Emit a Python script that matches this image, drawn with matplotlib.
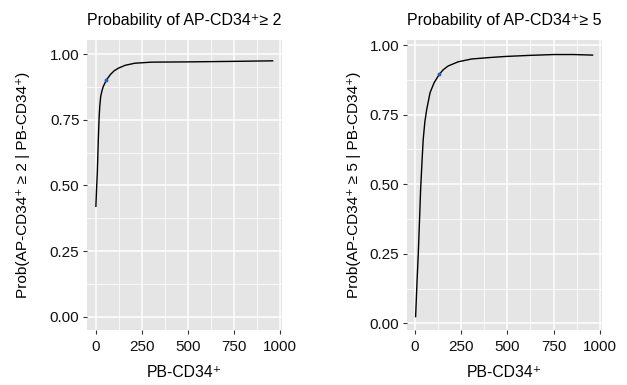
import matplotlib
matplotlib.use("Agg")
import matplotlib.pyplot as plt
from matplotlib.ticker import FormatStrFormatter

plt.rcParams['font.family'] = ['Liberation Sans', 'DejaVu Sans']

# left panel: AP-CD34+ >= 2
pb_left = [1, 5, 9, 14, 18, 22, 27, 34, 41, 58, 80, 100, 123, 160, 213, 304, 500, 750, 960]
prob_left = [0.42, 0.49, 0.55, 0.67, 0.75, 0.80, 0.837, 0.86, 0.876, 0.901, 0.922, 0.936,
             0.946, 0.957, 0.965, 0.969, 0.970, 0.972, 0.974]
mark_left = (58, 0.901)

# right panel: AP-CD34+ >= 5
pb_right = [5, 12, 19.5, 26, 32, 39, 46, 55, 65, 83, 105, 133, 155, 181, 235, 307, 400, 487,
            620, 750, 860, 960]
prob_right = [0.024, 0.14, 0.252, 0.37, 0.481, 0.575, 0.661, 0.725, 0.769, 0.829, 0.865, 0.895,
              0.912, 0.925, 0.940, 0.950, 0.955, 0.959, 0.963, 0.966, 0.966, 0.964]
mark_right = (133, 0.895)

x_ticks = [0, 250, 500, 750, 1000]
y_ticks = [0.0, 0.25, 0.5, 0.75, 1.0]

panels = [
    dict(x=pb_left, y=prob_left, mark=mark_left, k=2, ylim=(-0.0506, 1.053),
         pos=[0.1388, 0.1429, 0.311, 0.753], xlim=(-47, 1011), ypad=14),
    dict(x=pb_right, y=prob_right, mark=mark_right, k=5, ylim=(-0.024, 1.018),
         pos=[0.6491, 0.1429, 0.311, 0.753], xlim=(-41.6, 1011), ypad=6),
]

fig = plt.figure(figsize=(6.27, 3.85), dpi=100)

for p in panels:
    ax = fig.add_axes(p['pos'])
    ax.set_facecolor('#E5E5E5')
    for s in ax.spines.values():
        s.set_visible(False)
    ax.set_xlim(*p['xlim'])
    ax.set_ylim(*p['ylim'])
    ax.set_xticks(x_ticks)
    ax.set_yticks(y_ticks)
    ax.set_xticks([125, 375, 625, 875], minor=True)
    ax.set_yticks([0.125, 0.375, 0.625, 0.875], minor=True)
    ax.yaxis.set_major_formatter(FormatStrFormatter('%.2f'))
    ax.grid(which='major', color='white', lw=1.1)
    ax.grid(which='minor', color='white', lw=0.55)
    ax.set_axisbelow(True)
    ax.tick_params(which='major', length=3, width=0.8, color='#333333',
                   labelsize=11, labelcolor='#111111', pad=2.5)
    ax.tick_params(axis='x', which='major', pad=4)
    ax.tick_params(which='minor', length=0)

    ax.plot(p['x'], p['y'], color='black', lw=1.0)
    ax.plot([p['mark'][0]], [p['mark'][1]], 'o', color='#2B5BB5', ms=2.8, mec='none')

    k = p['k']
    ax.set_title(f'Probability of AP-CD34\u207a\u2265 {k}', fontsize=11.5, pad=11)
    ax.set_xlabel('PB-CD34\u207a', fontsize=11.3, labelpad=8)
    ax.set_ylabel(f'Prob(AP-CD34\u207a \u2265 {k} | PB-CD34\u207a)', fontsize=11.1,
                  labelpad=p['ypad'])

fig.savefig('out.png', dpi=100)
